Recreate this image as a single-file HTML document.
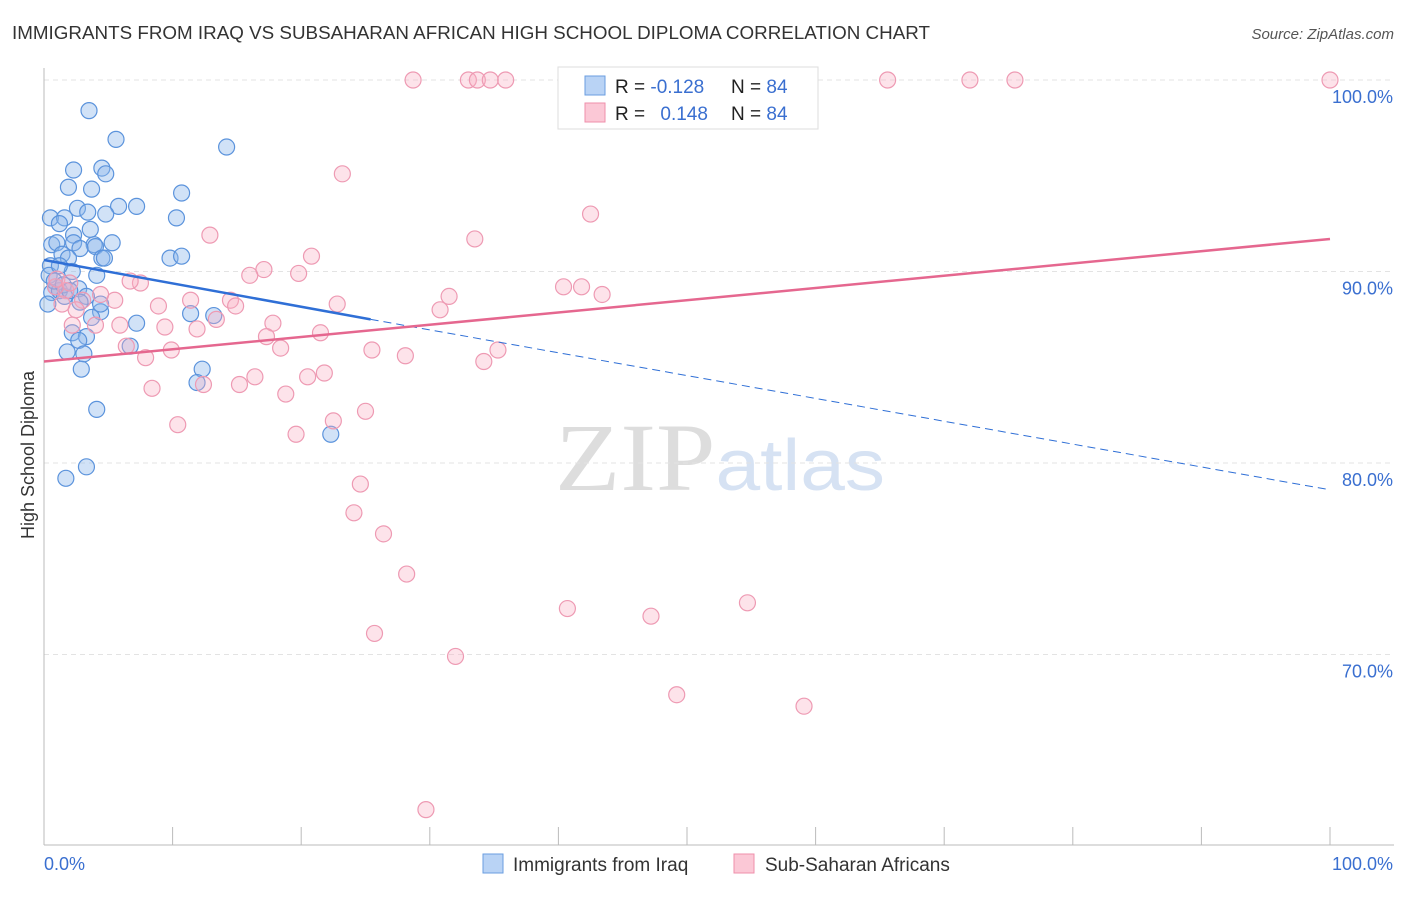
<!DOCTYPE html>
<html><head><meta charset="utf-8"><style>
body{margin:0;background:#fff;font-family:"Liberation Sans",sans-serif}
svg text{font-family:"Liberation Sans",sans-serif}
</style></head><body>
<svg id="chart" width="1406" height="892" xmlns="http://www.w3.org/2000/svg">
<text x="12" y="39" font-size="18" fill="#333" textLength="918" lengthAdjust="spacingAndGlyphs">IMMIGRANTS FROM IRAQ VS SUBSAHARAN AFRICAN HIGH SCHOOL DIPLOMA CORRELATION CHART</text>
<text x="1394" y="39" font-size="15" fill="#555" font-style="italic" text-anchor="end">Source: ZipAtlas.com</text>
<text x="555" y="490" font-size="96" textLength="330" lengthAdjust="spacingAndGlyphs"><tspan fill="#ddd" font-family="Liberation Serif">ZIP</tspan><tspan fill="#d6e2f3" font-size="72">atlas</tspan></text>
<g id="grid"></g>
<g id="axes"></g>
<g id="pts"></g>
<g id="lines"></g>
<text transform="translate(34,455) rotate(-90)" font-size="18" fill="#333" text-anchor="middle">High School Diploma</text>
<g>
<rect x="558" y="67" width="260" height="62" fill="#fff" stroke="#ddd"/>
<rect x="585" y="76" width="20" height="19" fill="#b9d3f5" stroke="#6a9ee0"/>
<rect x="585" y="103" width="20" height="19" fill="#fbc8d6" stroke="#ef8fab"/>
<text x="615" y="93" font-size="19" fill="#222">R = <tspan fill="#3a6fd0">-0.128</tspan></text>
<text x="731" y="93" font-size="19" fill="#222">N = <tspan fill="#3a6fd0">84</tspan></text>
<text x="615" y="120" font-size="19" fill="#222">R = <tspan fill="#3a6fd0" dx="10">0.148</tspan></text>
<text x="731" y="120" font-size="19" fill="#222">N = <tspan fill="#3a6fd0">84</tspan></text>
</g>
<g>
<rect x="483" y="854" width="20" height="19" fill="#b9d3f5" stroke="#6a9ee0"/>
<text x="513" y="871" font-size="19" fill="#333">Immigrants from Iraq</text>
<rect x="734" y="854" width="20" height="19" fill="#fbc8d6" stroke="#ef8fab"/>
<text x="765" y="871" font-size="19" fill="#333">Sub-Saharan Africans</text>
</g>
</svg>
<script>
const yTicks=[100,90,80,70];
const yTickLabels=["100.0%","90.0%","80.0%","70.0%"];
const iraqX=[3.5,5.6,14.2,2.3,4.5,4.8,1.9,3.7,10.7,0.5,1.6,2.6,3.4,5.8,7.2,4.8,10.3,1.2,3.6,2.3,0.6,1.0,2.3,3.9,4.0,5.3,2.8,1.4,1.9,4.5,4.7,9.8,10.7,0.5,2.2,4.1,0.9,2.7,0.6,1.2,3.3,4.4,11.4,13.2,7.2,2.2,3.3,2.7,1.8,3.1,6.7,12.3,2.9,11.9,4.1,22.3,3.3,1.7,0.3,1.6,0.4,1.2,2.8,3.7,4.4,0.8,1.5,2.0];
const iraqY=[98.4,96.9,96.5,95.3,95.4,95.1,94.4,94.3,94.1,92.8,92.8,93.3,93.1,93.4,93.4,93.0,92.8,92.5,92.2,91.9,91.4,91.5,91.5,91.4,91.3,91.5,91.2,90.9,90.7,90.7,90.7,90.7,90.8,90.3,90.0,89.8,89.2,89.1,88.9,89.0,88.7,87.9,87.8,87.7,87.3,86.8,86.6,86.4,85.8,85.7,86.1,84.9,84.9,84.2,82.8,81.5,79.8,79.2,88.3,88.7,89.8,90.3,88.4,87.6,88.3,89.5,89.3,89.0];
const ssaX=[28.7,33.0,33.7,34.7,35.9,52.4,65.6,72.0,75.5,100,23.2,42.5,33.5,12.9,20.8,17.1,16.0,19.8,7.5,6.7,5.5,8.9,11.4,14.5,14.9,22.8,31.5,30.8,40.4,41.8,43.4,13.4,17.8,9.4,11.9,5.9,21.5,17.3,18.4,6.4,7.9,9.9,25.5,28.1,35.3,34.2,16.4,15.2,20.5,21.8,12.4,8.4,18.8,25.0,22.5,10.4,19.6,24.6,24.1,26.4,28.2,40.7,47.2,54.7,25.7,32.0,49.2,59.1,29.7,2.2,3.0,1.7,4.4,0.9,4.0,2.5,1.0,1.4,2.0];
const ssaY=[100,100,100,100,100,100,100,100,100,100,95.1,93.0,91.7,91.9,90.8,90.1,89.8,89.9,89.4,89.5,88.5,88.2,88.5,88.5,88.2,88.3,88.7,88.0,89.2,89.2,88.8,87.5,87.3,87.1,87.0,87.2,86.8,86.6,86.0,86.1,85.5,85.9,85.9,85.6,85.9,85.3,84.5,84.1,84.5,84.7,84.1,83.9,83.6,82.7,82.2,82.0,81.5,78.9,77.4,76.3,74.2,72.4,72.0,72.7,71.1,69.9,67.9,67.3,61.9,87.2,88.5,89.0,88.8,89.2,87.2,88.0,89.6,88.3,89.4];
const blueTrend=[[0,90.6],[25.4,87.5],[100,78.6]];
const pinkTrend=[[0,85.3],[100,91.7]];
const X=v=>44+v*12.86, Y=v=>80+(100-v)*19.15;
const ns="http://www.w3.org/2000/svg";
function mk(t,a,p){const e=document.createElementNS(ns,t);for(const k in a)e.setAttribute(k,a[k]);p.appendChild(e);return e;}
const g=document.getElementById('grid');
yTicks.forEach((t,i)=>{
 const l=mk('line',{x1:44,x2:1394,y1:Y(t),y2:Y(t),stroke:'#e3e3e3','stroke-dasharray':'5,4'},g);
 
 
 const tx=mk('text',{x:1393,y:Y(t)+23,'font-size':18,fill:'#3a6fd0','text-anchor':'end'},g);
 tx.textContent=yTickLabels[i];
 
 
});
const ax=document.getElementById('axes');
mk('line',{x1:44,x2:44,y1:68,y2:845,stroke:'#bbb'},ax);
mk('line',{x1:44,x2:1394,y1:845,y2:845,stroke:'#bbb'},ax);
for(let i=0;i<=10;i++){mk('line',{x1:X(i*10),x2:X(i*10),y1:827,y2:845,stroke:'#bbb'},ax);}
const a0=mk('text',{x:44,y:870,'font-size':18,fill:'#3a6fd0'},ax);a0.textContent='0.0%';


const a1=mk('text',{x:1393,y:870,'font-size':18,fill:'#3a6fd0','text-anchor':'end'},ax);a1.textContent='100.0%';


const p=document.getElementById('pts');
iraqX.forEach((v,i)=>{const c=mk('circle',{cx:X(v),cy:Y(iraqY[i]),r:8,fill:'rgba(140,182,236,0.4)',stroke:'#5b93dc','stroke-width':1.2},p);
 
 });
ssaX.forEach((v,i)=>{const c=mk('circle',{cx:X(v),cy:Y(ssaY[i]),r:8,fill:'rgba(248,175,196,0.35)',stroke:'#ee9ab3','stroke-width':1.2},p);
 
 });
const L=document.getElementById('lines');
const b1=mk('line',{x1:X(blueTrend[0][0]),y1:Y(blueTrend[0][1]),x2:X(blueTrend[1][0]),y2:Y(blueTrend[1][1]),stroke:'#2f6fd6','stroke-width':2.5},L);


const b2=mk('line',{x1:X(blueTrend[1][0]),y1:Y(blueTrend[1][1]),x2:X(blueTrend[2][0]),y2:Y(blueTrend[2][1]),stroke:'#2f6fd6','stroke-width':1,'stroke-dasharray':'8,5'},L);


const pl=mk('line',{x1:X(pinkTrend[0][0]),y1:Y(pinkTrend[0][1]),x2:X(pinkTrend[1][0]),y2:Y(pinkTrend[1][1]),stroke:'#e5678f','stroke-width':2.5},L);


</script>
</body></html>
